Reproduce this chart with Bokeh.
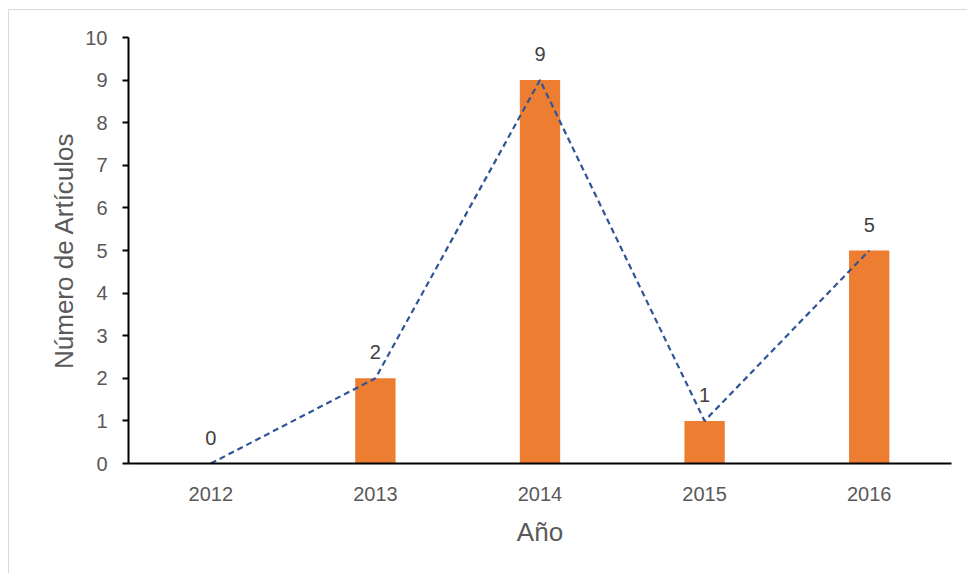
from bokeh.plotting import figure
from bokeh.models import ColumnDataSource, FixedTicker, LabelSet, Range1d
from bokeh.core.properties import value
from bokeh.embed import file_html
from bokeh.resources import INLINE

years = ["2012", "2013", "2014", "2015", "2016"]
articles = [0, 2, 9, 1, 5]
y_ticks = [0, 1, 2, 3, 4, 5, 6, 7, 8, 9, 10]

src = ColumnDataSource(dict(x=years, y=articles, lab=[str(v) for v in articles]))

FONT = "Liberation Sans"

p = figure(x_range=years, y_range=Range1d(0, 10), width=959, height=564,
           output_backend="svg", toolbar_location=None,
           min_border_left=119, min_border_right=17, min_border_top=27, min_border_bottom=111)
p.margin = (9, 0, 0, 8)
p.outline_line_color = None
p.border_fill_color = "white"
p.background_fill_color = "white"
p.xgrid.visible = False
p.ygrid.visible = False

p.vbar(x="x", top="y", width=0.245, source=src, fill_color="#ED7D31", line_color=None)
p.line(x="x", y="y", source=src, line_color="#2F5597", line_width=2.2, line_dash="6 4")

labels = LabelSet(x="x", y="y", text="lab", source=src, text_align="center",
                  text_baseline="bottom", y_offset=19, text_color="#404040",
                  text_font=value(FONT), text_font_size="20px")
p.add_layout(labels)

p.yaxis.ticker = FixedTicker(ticks=y_ticks)
p.yaxis.minor_tick_line_color = None
p.yaxis.major_tick_out = 6
p.yaxis.major_tick_in = 0
p.yaxis.major_tick_line_color = "black"
p.yaxis.major_tick_line_width = 2
p.yaxis.major_label_standoff = 15
p.xaxis.major_tick_line_color = None
p.xaxis.minor_tick_line_color = None
p.xaxis.major_label_standoff = 17

for ax in (p.xaxis, p.yaxis):
    ax.axis_line_color = "black"
    ax.axis_line_width = 2
    ax.major_label_text_color = "#595959"
    ax.major_label_text_font = FONT
    ax.major_label_text_font_size = "20px"
    ax.axis_label_text_color = "#595959"
    ax.axis_label_text_font = FONT
    ax.axis_label_text_font_size = "26px"
    ax.axis_label_text_font_style = "normal"

p.xaxis.axis_label = "Año"
p.yaxis.axis_label = "Número de Artículos"
p.xaxis.axis_label_standoff = 13
p.yaxis.axis_label_standoff = 3

p.styles = {"border-left": "1px solid #d9d9d9", "border-top": "1px solid #d9d9d9"}

open("out.html", "w").write(file_html(p, INLINE))
